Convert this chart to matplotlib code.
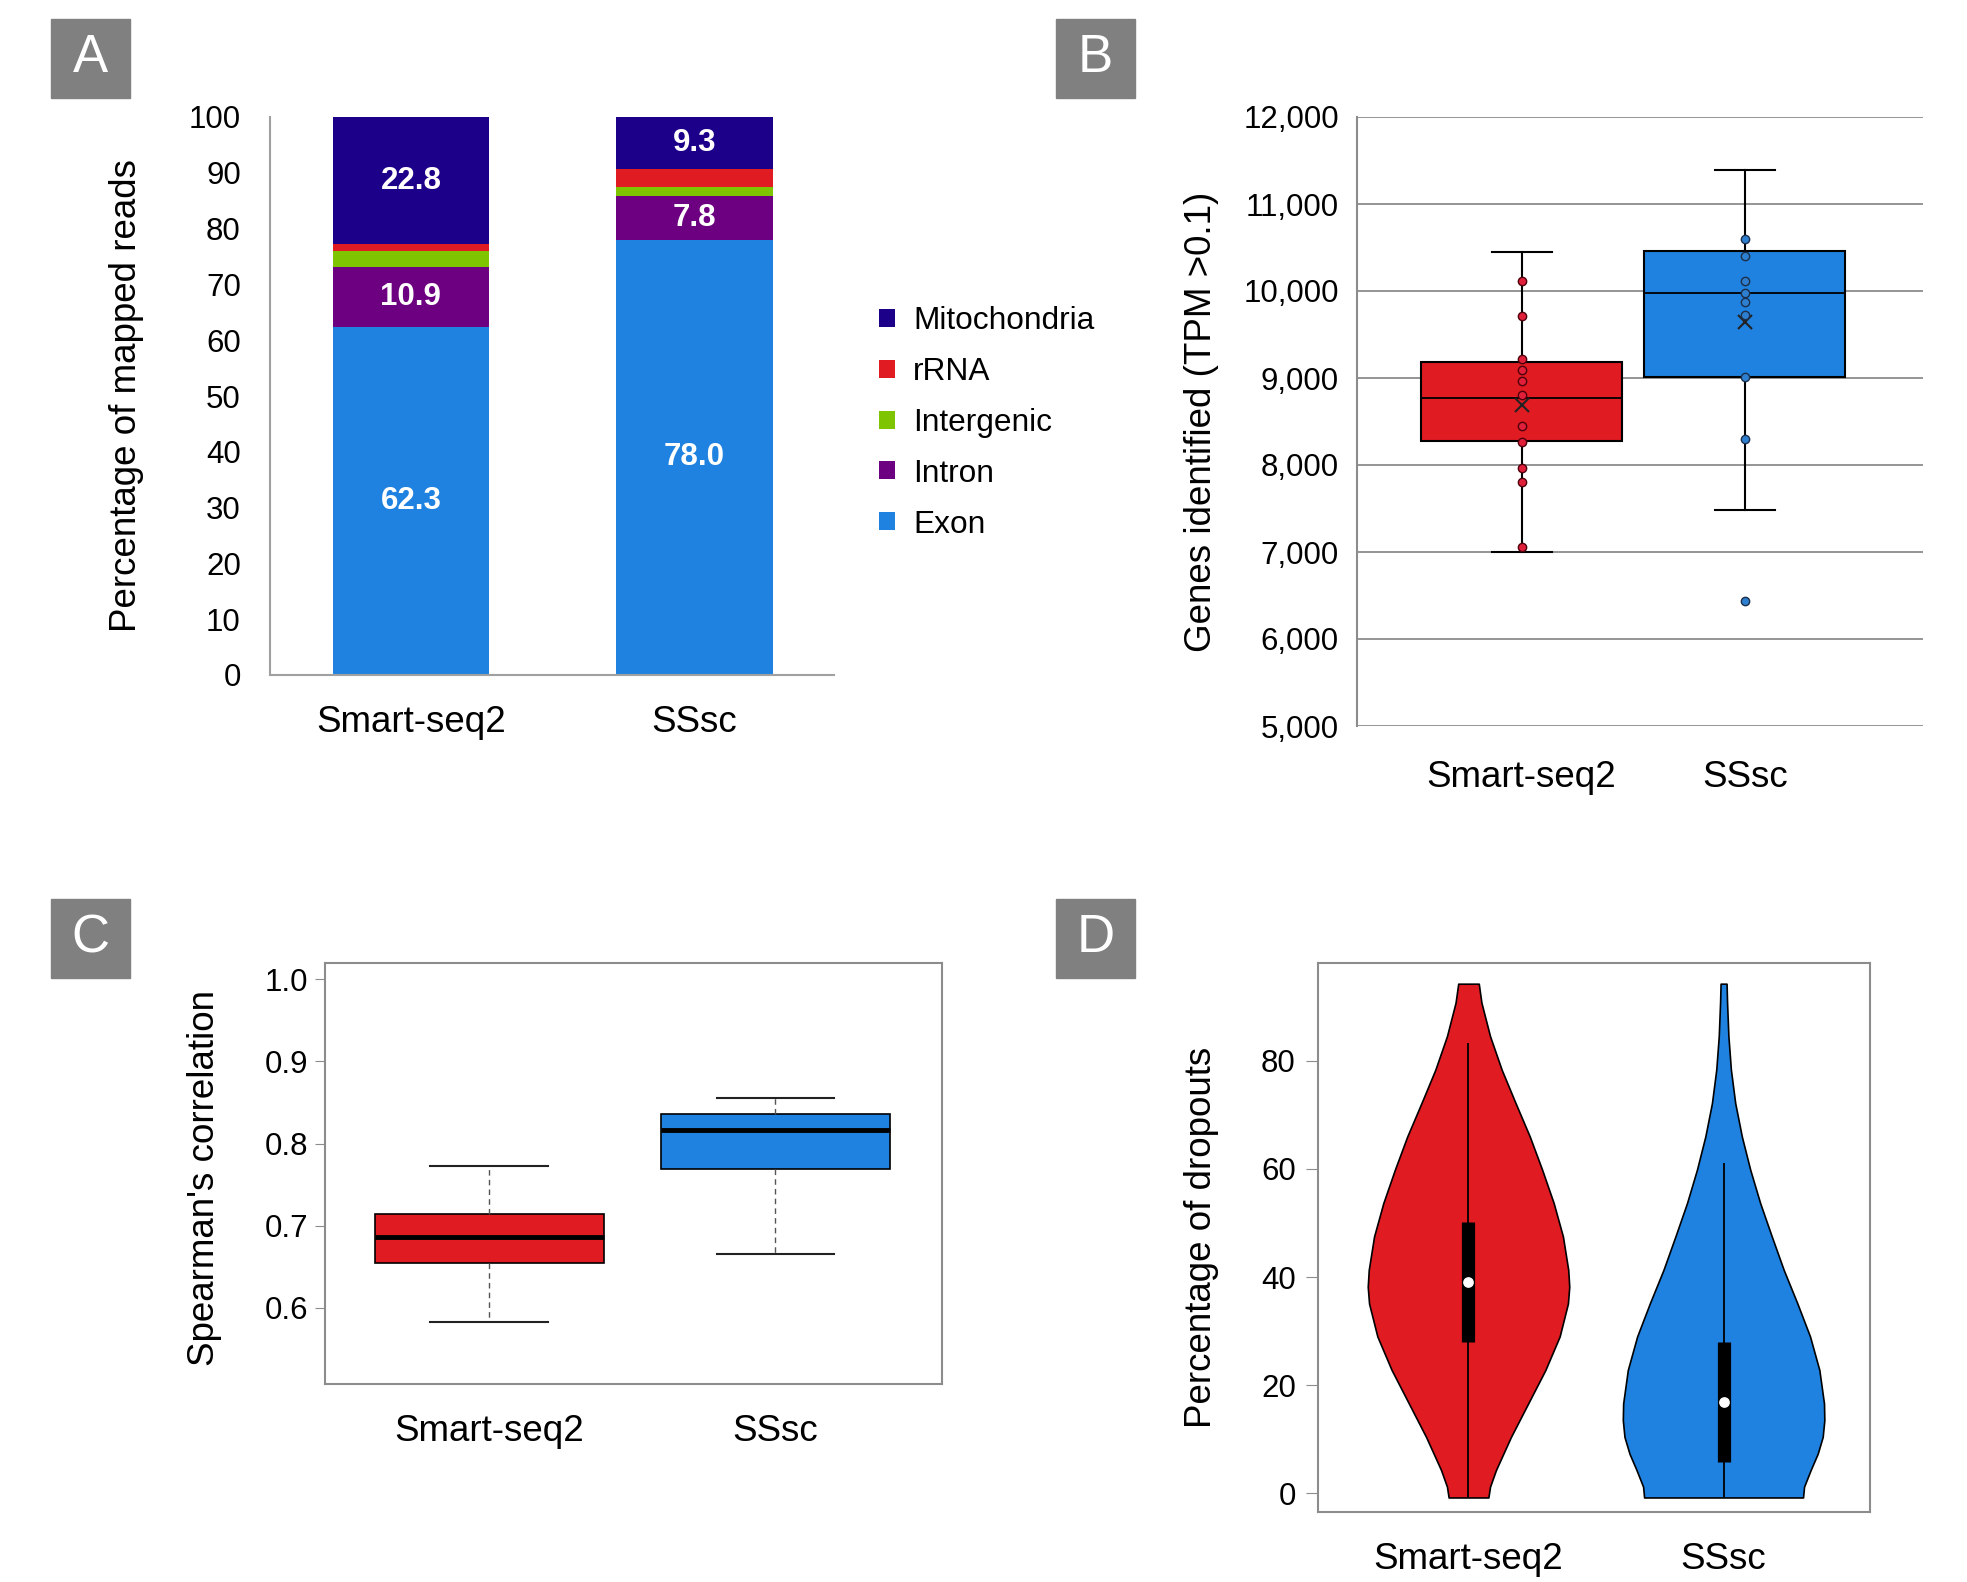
import numpy as np
import matplotlib
matplotlib.use("Agg")
import matplotlib.pyplot as plt
from matplotlib.patches import Rectangle
from matplotlib.ticker import StrMethodFormatter

plt.rcParams["font.family"] = ["Liberation Sans", "DejaVu Sans"]

groups = ["Smart-seq2", "SSsc"]
red = "#e01b22"
blue = "#1f82e0"

# A: composition of mapped reads (%), stacked bottom -> top
read_types = ["Exon", "Intron", "Intergenic", "rRNA", "Mitochondria"]
exon = [62.3, 78.0]
intron = [10.9, 7.8]
intergenic = [2.8, 1.6]
rrna = [1.2, 3.3]
mito = [22.8, 9.3]
type_colors = ["#1f82e0", "#6d0080", "#7fc400", "#e01b22", "#1d0089"]
labelled_types = ["Exon", "Intron", "Mitochondria"]

# B: genes identified (TPM > 0.1)
genes_q = {
    "Smart-seq2": dict(whislo=7000, q1=8280, med=8770, q3=9185, whishi=10445, mean=8690),
    "SSsc": dict(whislo=7480, q1=9010, med=9980, q3=10460, whishi=11390, mean=9640),
}
genes_smart = [10115, 9718, 9214, 9088, 8962, 8809, 8443, 8263, 7969, 7802, 7053]
genes_sssc = [10592, 10397, 10115, 9977, 9878, 9725, 9011, 8302, 6439]

# C: Spearman's correlation
spear_q = {
    "Smart-seq2": dict(whislo=0.582, q1=0.655, med=0.686, q3=0.714, whishi=0.773),
    "SSsc": dict(whislo=0.666, q1=0.769, med=0.816, q3=0.836, whishi=0.856),
}

# D: dropouts (%), violin outline half-widths
drop_y_smart = [-0.8, 1.2, 4.3, 10.4, 16.6, 22.8, 29.0, 35.1, 38.2, 41.3,
                47.5, 53.7, 59.9, 66.0, 72.2, 78.4, 84.6, 90.8, 94.3]
drop_w_smart = [60, 65, 83, 128, 180, 232, 275, 300, 304, 301,
                285, 257, 222, 185, 142, 100, 65, 39, 31]
drop_y_sssc = [-0.8, 1.2, 4.3, 7.3, 10.4, 13.5, 16.6, 22.8, 29.0, 35.1,
               41.3, 47.5, 53.7, 59.9, 66.0, 72.2, 78.4, 84.6, 90.8, 94.3]
drop_w_sssc = [239, 242, 262, 283, 298, 303, 302, 288, 260, 222,
               181, 145, 110, 80, 55, 35, 22, 14.5, 10.5, 9]
drop_box = {
    "Smart-seq2": dict(lo=-0.8, q1=28.0, med=39.0, q3=50.2, hi=83.3),
    "SSsc": dict(lo=-0.8, q1=5.8, med=16.9, q3=27.9, hi=61.2),
}

W, H = 1967, 1582
fig = plt.figure(figsize=(W / 100, H / 100), dpi=100)


def px_axes(l, t, r, b):
    return fig.add_axes([l / W, 1 - b / H, (r - l) / W, (b - t) / H])


def panel_letter(letter, l, t):
    fig.add_artist(Rectangle((l / W, 1 - (t + 79) / H), 79 / W, 79 / H,
                             transform=fig.transFigure, color="#808080"))
    fig.text((l + 39.5) / W, 1 - (t + 39.5) / H, letter, color="white",
             fontsize=38, ha="center", va="center")


gray = "#8c8c8c"
tick_fs = 22.5
lab_fs = 26.5

# ---------------- A ----------------
ax = px_axes(270, 117, 834, 675)
x = np.arange(len(groups))
bottom = np.zeros(len(groups))
series = [exon, intron, intergenic, rrna, mito]
handles = []
for name, vals, col in zip(read_types, series, type_colors):
    bars = ax.bar(x, vals, 0.553, bottom=bottom, color=col, label=name)
    handles.append(bars)
    if name in labelled_types:
        ax.bar_label(bars, labels=[f"{v:.1f}" for v in vals], label_type="center",
                     color="white", fontsize=22.5, fontweight="bold")
    bottom += np.array(vals)
ax.set_xlim(-0.497, 1.492)
ax.set_ylim(0, 100)
ax.set_yticks(range(0, 101, 10))
ax.set_xticks(x)
ax.set_xticklabels(groups)
for s in ["top", "right"]:
    ax.spines[s].set_visible(False)
for s in ["left", "bottom"]:
    ax.spines[s].set_color("#a0a0a0")
    ax.spines[s].set_linewidth(1.5)
ax.tick_params(axis="y", length=0, labelsize=tick_fs, pad=21)
ax.tick_params(axis="x", length=0, labelsize=lab_fs, pad=21.5)
ax.set_ylabel("Percentage of mapped reads", fontsize=lab_fs, va="center")
ax.yaxis.set_label_coords(-0.254, 0.5)
fig.legend(handles[::-1], read_types[::-1], loc="upper left",
           bbox_to_anchor=(879 / W, 1 - 306 / H), frameon=False,
           fontsize=22.8, handlelength=0.5, handleheight=0.5,
           handletextpad=0.57, labelspacing=0.66, borderpad=0, borderaxespad=0)
panel_letter("A", 51, 19)

# ---------------- B ----------------
ax = px_axes(1357, 117, 1923, 726)
stats = [dict(genes_q[g], fliers=[]) for g in groups]
bp = ax.bxp(stats, positions=[1, 2], widths=0.9, capwidths=0.27, patch_artist=True,
            showmeans=True, showfliers=False,
            boxprops=dict(edgecolor="black", linewidth=1.5),
            whiskerprops=dict(color="black", linewidth=1.5),
            capprops=dict(color="black", linewidth=1.5),
            medianprops=dict(color="black", linewidth=1.3),
            meanprops=dict(marker="x", markeredgecolor="#222222", markersize=10,
                           markeredgewidth=1.5),
            manage_ticks=False, zorder=2)
for patch, col in zip(bp["boxes"], [red, blue]):
    patch.set_facecolor(col)
ax.scatter(np.full(len(genes_smart), 1), genes_smart, s=36, color="#e0203a",
           edgecolor="#50000c", linewidth=1, zorder=3)
ax.scatter(np.full(len(genes_sssc), 2), genes_sssc, s=36, color="#2f7fd0",
           edgecolor="#1b2f4a", linewidth=1, zorder=3)
ax.set_xlim(0.262, 2.799)
ax.set_ylim(5000, 12000)
ax.set_yticks(range(5000, 12001, 1000))
ax.yaxis.set_major_formatter(StrMethodFormatter("{x:,.0f}"))
ax.grid(axis="y", color=gray, linewidth=1.3, zorder=0)
ax.set_axisbelow(True)
ax.set_xticks([1, 2])
ax.set_xticklabels(groups)
for s in ["top", "right", "bottom"]:
    ax.spines[s].set_visible(False)
ax.spines["left"].set_color(gray)
ax.spines["left"].set_linewidth(1.5)
ax.tick_params(axis="y", length=0, labelsize=tick_fs, pad=13)
ax.tick_params(axis="x", length=0, labelsize=lab_fs, pad=24.5)
ax.set_ylabel("Genes identified (TPM >0.1)", fontsize=lab_fs, va="center")
ax.yaxis.set_label_coords(-0.275, 0.5)
panel_letter("B", 1056, 19)

# ---------------- C ----------------
ax = px_axes(325, 963, 942, 1384)
stats = [dict(spear_q[g], fliers=[]) for g in groups]
bp = ax.bxp(stats, positions=[1, 2], widths=0.8, capwidths=0.41, patch_artist=True,
            showfliers=False,
            boxprops=dict(edgecolor="black", linewidth=1.2),
            whiskerprops=dict(color="#555555", linewidth=1, linestyle=(0, (4, 3))),
            capprops=dict(color="#222222", linewidth=1.5),
            medianprops=dict(color="black", linewidth=3.5),
            manage_ticks=False)
for patch, col in zip(bp["boxes"], [red, blue]):
    patch.set_facecolor(col)
ax.set_xlim(0.427, 2.582)
ax.set_ylim(0.507, 1.02)
ax.set_yticks([0.6, 0.7, 0.8, 0.9, 1.0])
ax.set_yticklabels(["0.6", "0.7", "0.8", "0.9", "1.0"])
ax.set_xticks([1, 2])
ax.set_xticklabels(groups)
for s in ax.spines.values():
    s.set_color(gray)
    s.set_linewidth(1.5)
ax.tick_params(axis="y", length=7, color=gray, labelsize=tick_fs, pad=5)
ax.tick_params(axis="x", length=0, labelsize=lab_fs, pad=21.5)
ax.set_ylabel("Spearman's correlation", fontsize=lab_fs, va="center")
ax.yaxis.set_label_coords(-0.195, 0.49)
panel_letter("C", 51, 899)

# ---------------- D ----------------
ax = px_axes(1318, 963, 1870, 1512)
vp_stats = []
for ys, ws, g in [(drop_y_smart, drop_w_smart, "Smart-seq2"),
                  (drop_y_sssc, drop_w_sssc, "SSsc")]:
    b = drop_box[g]
    vp_stats.append(dict(coords=np.array(ys), vals=np.array(ws, dtype=float),
                         mean=b["med"], median=b["med"], min=ys[0], max=ys[-1]))
vp = ax.violin(vp_stats, positions=[1, 2], widths=0.79, showmeans=False,
               showextrema=False, showmedians=False)
for body, col in zip(vp["bodies"], [red, blue]):
    body.set_facecolor(col)
    body.set_edgecolor("black")
    body.set_linewidth(1.2)
    body.set_alpha(1)
for pos, g in zip([1, 2], groups):
    b = drop_box[g]
    ax.vlines(pos, b["lo"], b["hi"], color="black", linewidth=1.3, zorder=3)
    ax.vlines(pos, b["q1"], b["q3"], color="black", linewidth=9.5,
              capstyle="butt", zorder=3)
    ax.scatter([pos], [b["med"]], s=45, color="white", zorder=4)
ax.set_xlim(0.41, 2.574)
ax.set_ylim(-3.49, 98.13)
ax.set_yticks(range(0, 81, 20))
ax.set_xticks([1, 2])
ax.set_xticklabels(groups)
for s in ax.spines.values():
    s.set_color(gray)
    s.set_linewidth(1.5)
ax.tick_params(axis="y", length=9, color=gray, labelsize=tick_fs, pad=7)
ax.tick_params(axis="x", length=0, labelsize=lab_fs, pad=21.5)
ax.set_ylabel("Percentage of dropouts", fontsize=lab_fs, va="center")
ax.yaxis.set_label_coords(-0.211, 0.5)
panel_letter("D", 1056, 899)

fig.savefig("out.png", dpi=100, facecolor="white")
